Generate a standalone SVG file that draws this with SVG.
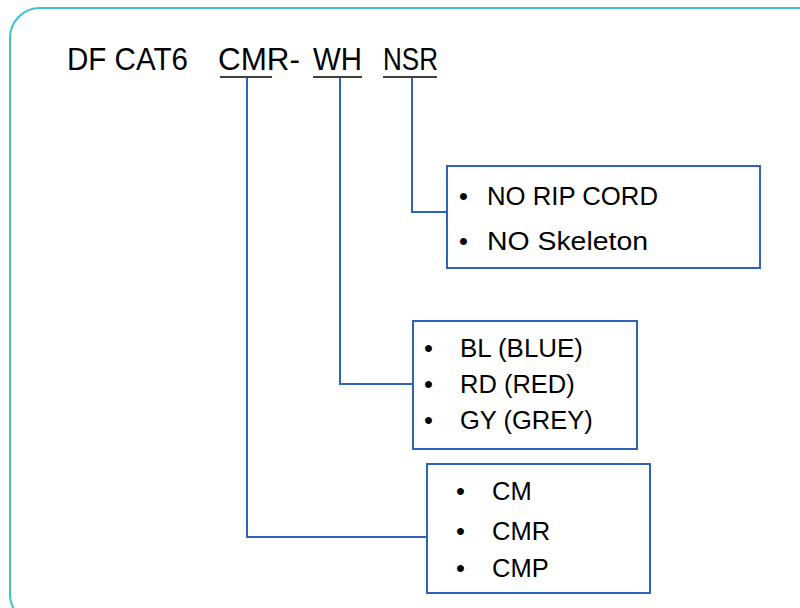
<svg xmlns="http://www.w3.org/2000/svg" width="800" height="608" viewBox="0 0 800 608">
<style>
.t{font-family:"Liberation Sans",Arial,sans-serif;fill:#000}
.title{font-size:32px}
.item{font-size:25.5px}
.box{fill:#fff;stroke:#2e63b8;stroke-width:2}
.conn{fill:none;stroke:#2e63b8;stroke-width:2}
.ul{stroke:#000;stroke-width:1.6}
</style>
<rect x="10" y="8" width="820" height="616" rx="30" ry="30" fill="#fff" stroke="#3fc1cd" stroke-width="2"/>
<g id="title">
<text class="t title" x="67" y="70" textLength="121" lengthAdjust="spacingAndGlyphs">DF CAT6</text>
<text class="t title" x="218" y="70" textLength="82" lengthAdjust="spacingAndGlyphs">CMR-</text>
<text class="t title" x="313" y="70" textLength="49" lengthAdjust="spacingAndGlyphs">WH</text>
<text class="t title" x="383" y="70" textLength="55" lengthAdjust="spacingAndGlyphs">NSR</text>
<line class="ul" x1="220" y1="77" x2="272" y2="77"/>
<line class="ul" x1="313" y1="77" x2="362" y2="77"/>
<line class="ul" x1="383" y1="77" x2="437" y2="77"/>
</g>
<g id="connectors">
<polyline class="conn" points="247,78 247,537 427,537"/>
<polyline class="conn" points="340,78 340,384 413,384"/>
<polyline class="conn" points="412,78 412,212 447,212"/>
</g>
<g id="nsr-box">
<rect class="box" x="447" y="166" width="313" height="102"/>
<text class="t item" x="459" y="205">•</text>
<text class="t item" x="487" y="205" textLength="171" lengthAdjust="spacingAndGlyphs">NO RIP CORD</text>
<text class="t item" x="459" y="250">•</text>
<text class="t item" x="487" y="250" textLength="161" lengthAdjust="spacingAndGlyphs">NO Skeleton</text>
</g>
<g id="color-box">
<rect class="box" x="413" y="321" width="224" height="128"/>
<text class="t item" x="424" y="357">•</text>
<text class="t item" x="460" y="357" textLength="123" lengthAdjust="spacingAndGlyphs">BL (BLUE)</text>
<text class="t item" x="424" y="393">•</text>
<text class="t item" x="460" y="393">RD (RED)</text>
<text class="t item" x="424" y="429">•</text>
<text class="t item" x="460" y="429">GY (GREY)</text>
</g>
<g id="rating-box">
<rect class="box" x="427" y="464" width="223" height="129"/>
<text class="t item" x="456" y="500">•</text>
<text class="t item" x="492" y="500">CM</text>
<text class="t item" x="456" y="540">•</text>
<text class="t item" x="492" y="540">CMR</text>
<text class="t item" x="456" y="577">•</text>
<text class="t item" x="492" y="577">CMP</text>
</g>
</svg>
